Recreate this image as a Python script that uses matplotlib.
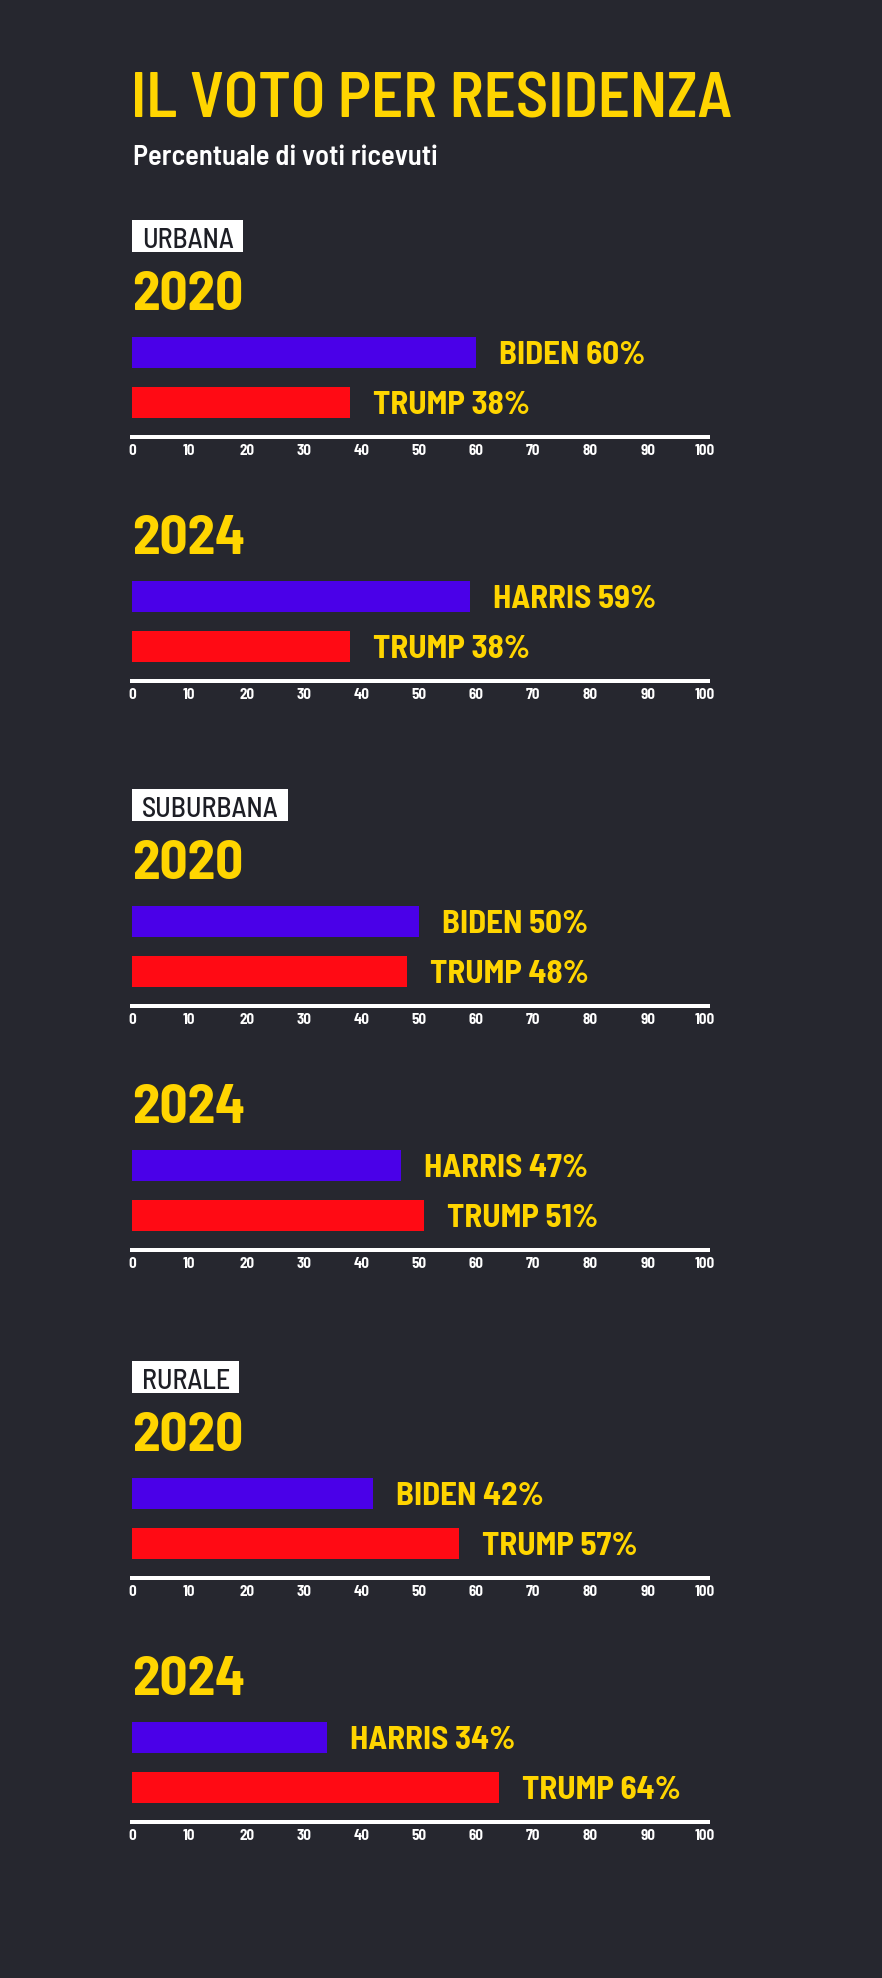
import matplotlib
matplotlib.use("Agg")
import matplotlib.pyplot as plt
from matplotlib.patches import Rectangle

# ---- data ----
zones = ["URBANA", "SUBURBANA", "RURALE"]
years = ["2020", "2024"]
dem_names = ["BIDEN", "HARRIS"]
rep_name = "TRUMP"
dem_votes = [[60, 59], [50, 47], [42, 34]]
rep_votes = [[38, 38], [48, 51], [57, 64]]
ticks = list(range(0, 101, 10))

# ---- style ----
BG = "#26272f"
YELLOW = "#ffd500"
BLUE = "#4a00e8"
RED = "#ff0a14"
W, H = 882, 1978
DPI = 100
FONT = "Barlow Semi Condensed"

# axis line y (px from top) for each panel
axis_y = [[437, 681], [1006, 1250], [1578, 1822]]
X0, X1 = 132, 708          # x of 0 and right end of axis line
PT = 72 / DPI               # px -> pt


def fx(px):
    return px / W


def fy(py):
    return 1 - py / H


fig = plt.figure(figsize=(W / DPI, H / DPI), dpi=DPI, facecolor=BG)

fig.text(fx(131), fy(117), "IL VOTO PER RESIDENZA", color=YELLOW,
         family=FONT, weight=600, fontsize=63 * PT, va="baseline", ha="left")
fig.text(fx(133), fy(165), "Percentuale di voti ricevuti", color="white",
         family=FONT, weight=600, fontsize=28.5 * PT, va="baseline", ha="left")

box_labels = []
for zi, zone in enumerate(zones):
    for yi, year in enumerate(years):
        A = axis_y[zi][yi]
        ax = fig.add_axes([fx(X0), fy(A), fx(X1 - X0), 100 / H])
        ax.set_facecolor("none")
        ax.set_xlim(0, 100.5)
        ax.set_ylim(0, 100)
        dv = dem_votes[zi][yi]
        rv = rep_votes[zi][yi]
        ax.barh([84.5, 34.5], [dv, rv], height=31, color=[BLUE, RED], align="center")
        for yc, v, name in [(84.5, dv, dem_names[yi]), (34.5, rv, rep_name)]:
            ax.annotate(f"{name} {v}%", xy=(v, yc), xytext=(23, -11.5),
                        textcoords="offset pixels", color=YELLOW, family=FONT,
                        weight=700, fontsize=33 * PT, va="baseline", ha="left",
                        annotation_clip=False)
        for s in ["top", "right", "left"]:
            ax.spines[s].set_visible(False)
        ax.spines["bottom"].set_color("white")
        ax.spines["bottom"].set_linewidth(4 * PT)
        ax.set_yticks([])
        ax.set_xticks(ticks)
        ax.set_xticklabels([str(t) for t in ticks], family=FONT,
                           weight=700, fontsize=15 * PT, color="white")
        ax.tick_params(axis="x", length=0, pad=7 * PT)

        # year heading
        fig.text(fx(X0), fy(A - 127), year, color=YELLOW, family=FONT,
                 weight=700, fontsize=55 * PT, va="baseline", ha="left")

        if yi == 0:
            t = fig.text(fx(X0 + 10), fy(A - 189), zone, color="#1d1e25",
                         family=FONT, weight=500, fontsize=28 * PT,
                         va="baseline", ha="left", zorder=5)
            box_labels.append((t, A))

# white boxes behind the zone names, sized to the text
fig.canvas.draw()
r = fig.canvas.get_renderer()
for t, A in box_labels:
    ext = t.get_window_extent(r)
    x_right = ext.x1 + 9
    top, bot = A - 217, A - 185
    fig.patches.append(Rectangle((fx(X0), fy(bot)), fx(x_right - X0), (bot - top) / H,
                                 transform=fig.transFigure, facecolor="white",
                                 edgecolor="none", zorder=4))

fig.savefig("out.png", dpi=DPI, facecolor=BG)
